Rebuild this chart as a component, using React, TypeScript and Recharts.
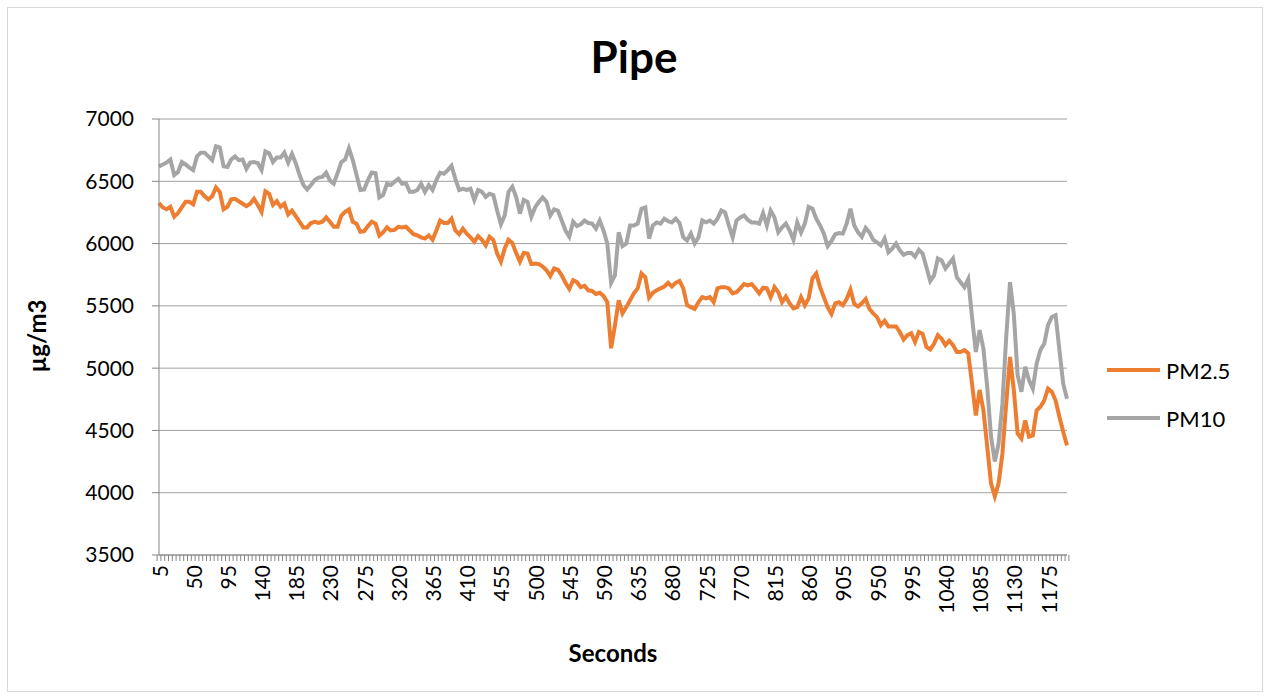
import { LineChart, Line, XAxis, YAxis, CartesianGrid } from "recharts"

// seconds on the category axis, one reading every 5 s
const seconds = Array.from({ length: 240 }, (_, i) => (i + 1) * 5)

const pm25 = [
  6325, 6290, 6275, 6295, 6215, 6245, 6290, 6335, 6335, 6315,
  6415, 6415, 6380, 6355, 6380, 6450, 6415, 6275, 6295, 6355,
  6360, 6340, 6320, 6300, 6320, 6360, 6310, 6255, 6420, 6400,
  6310, 6340, 6295, 6320, 6235, 6265, 6220, 6175, 6130, 6130,
  6165, 6175, 6165, 6175, 6210, 6175, 6135, 6135, 6225, 6255,
  6275, 6175, 6160, 6095, 6100, 6140, 6175, 6160, 6065, 6090,
  6130, 6105, 6110, 6135, 6130, 6135, 6105, 6075, 6065, 6050,
  6040, 6065, 6030, 6105, 6185, 6165, 6165, 6200, 6105, 6075,
  6120, 6080, 6050, 6015, 6060, 6030, 5985, 6055, 6030, 5920,
  5855, 5960, 6030, 6005, 5925, 5855, 5925, 5920, 5835, 5840,
  5835, 5815, 5785, 5740, 5800, 5790, 5745, 5685, 5635, 5705,
  5690, 5650, 5660, 5625, 5620, 5595, 5605, 5580, 5530, 5160,
  5340, 5545, 5440, 5490, 5545, 5600, 5640, 5760, 5730, 5565,
  5605, 5625, 5640, 5655, 5685, 5655, 5685, 5700, 5640, 5505,
  5490, 5475, 5530, 5570, 5560, 5570, 5530, 5640, 5650, 5650,
  5640, 5600, 5610, 5640, 5675, 5665, 5675, 5640, 5600, 5645,
  5640, 5570, 5650, 5610, 5530, 5575, 5520, 5480, 5490, 5570,
  5505, 5560, 5720, 5760, 5650, 5570, 5490, 5435, 5520, 5530,
  5505, 5555, 5630, 5515, 5495, 5520, 5555, 5475, 5440, 5410,
  5345, 5380, 5335, 5335, 5335, 5290, 5230, 5265, 5280, 5210,
  5290, 5275, 5170, 5150, 5195, 5265, 5235, 5185, 5220, 5185,
  5130, 5130, 5145, 5120, 4875, 4620, 4825, 4660, 4370, 4075,
  3970, 4075, 4315, 4715, 5090, 4825, 4475, 4435, 4580, 4450,
  4460, 4660, 4690, 4740, 4835, 4810, 4740, 4610, 4490, 4380,
]

const pm10 = [
  6620, 6635, 6650, 6675, 6550, 6575, 6655, 6635, 6610, 6590,
  6700, 6730, 6730, 6700, 6670, 6780, 6770, 6620, 6615, 6675,
  6700, 6670, 6675, 6600, 6650, 6655, 6645, 6590, 6740, 6725,
  6655, 6690, 6690, 6730, 6650, 6720, 6645, 6550, 6470, 6435,
  6470, 6510, 6530, 6535, 6570, 6505, 6480, 6565, 6655, 6675,
  6765, 6670, 6550, 6430, 6435, 6510, 6570, 6565, 6370, 6390,
  6480, 6470, 6495, 6520, 6480, 6485, 6415, 6415, 6430, 6480,
  6415, 6470, 6430, 6510, 6570, 6560, 6590, 6625, 6520, 6430,
  6440, 6430, 6440, 6350, 6430, 6415, 6375, 6400, 6390, 6265,
  6155, 6225, 6415, 6455, 6375, 6240, 6350, 6335, 6215, 6290,
  6335, 6370, 6335, 6225, 6275, 6265, 6185, 6105, 6055, 6175,
  6140, 6155, 6185, 6165, 6160, 6120, 6185, 6105, 6000, 5685,
  5745, 6090, 5980, 6000, 6145, 6145, 6160, 6280, 6290, 6040,
  6145, 6170, 6160, 6200, 6180, 6170, 6200, 6165, 6050, 6025,
  6080, 6000, 6050, 6185, 6170, 6185, 6160, 6200, 6265, 6250,
  6145, 6050, 6185, 6210, 6225, 6190, 6170, 6170, 6160, 6245,
  6145, 6265, 6210, 6090, 6130, 6160, 6105, 6030, 6170, 6090,
  6160, 6295, 6280, 6200, 6145, 6080, 5980, 6020, 6075, 6085,
  6080, 6160, 6280, 6145, 6090, 6055, 6125, 6090, 6030, 6010,
  5985, 6040, 5930, 5960, 6000, 5945, 5910, 5925, 5925, 5895,
  5950, 5920, 5810, 5700, 5745, 5880, 5865, 5800, 5840, 5880,
  5730, 5690, 5650, 5715, 5410, 5130, 5305, 5155, 4850, 4450,
  4250, 4395, 4715, 5250, 5690, 5435, 4945, 4810, 5010, 4905,
  4835, 5035, 5145, 5195, 5345, 5410, 5425, 5145, 4875, 4755,
]

const yTicks = [3500, 4000, 4500, 5000, 5500, 6000, 6500, 7000]

const series = [
  { key: "pm25", name: "PM2.5", color: "#ED7D31" },
  { key: "pm10", name: "PM10", color: "#A5A5A5" },
]

const data = seconds.map((s, i) => ({ s, pm25: pm25[i], pm10: pm10[i] }))

const W = 1267
const H = 698
const FONT = "Lato, 'Open Sans', sans-serif"
const AXIS = "#868686"
const yAxisWidth = 159
const rightGap = 200
const band = (W - yAxisWidth - rightGap) / seconds.length

function SecondsTick(props: any) {
  const { x, y, payload, index } = props
  const left = x - band / 2
  const ly = y + 10
  return (
    <g>
      <line x1={left} y1={y} x2={left} y2={y + 6} stroke={AXIS} />
      {index === seconds.length - 1 && (
        <line x1={x + band / 2} y1={y} x2={x + band / 2} y2={y + 6} stroke={AXIS} />
      )}
      {index % 9 === 0 && (
        <text
          x={x}
          y={ly}
          transform={`rotate(-90 ${x} ${ly})`}
          textAnchor="end"
          dominantBaseline="central"
          fontSize={21}
          fontFamily={FONT}
          fill="#000"
        >
          {payload.value}
        </text>
      )}
    </g>
  )
}

export default function App() {
  return (
    <div style={{ position: "absolute", left: 0, top: 0, width: W, height: H, background: "#fff" }}>
      <LineChart
        width={W}
        height={H}
        data={data}
        margin={{ top: 119, right: rightGap, bottom: 0, left: 0 }}
      >
        <CartesianGrid horizontal vertical={false} stroke="#a0a0a0" />
        <XAxis
          dataKey="s"
          interval={0}
          height={143}
          tickLine={false}
          tickSize={0}
          tickMargin={0}
          axisLine={{ stroke: AXIS }}
          tick={SecondsTick}
        />
        <YAxis
          domain={[3500, 7000]}
          ticks={yTicks}
          interval={0}
          width={yAxisWidth}
          axisLine={{ stroke: AXIS }}
          tickLine={{ stroke: AXIS }}
          tickSize={7}
          tickMargin={18}
          tick={{ fill: "#000", fontSize: 21, fontFamily: FONT }}
        />
        {series.map((s) => (
          <Line
            key={s.key}
            type="linear"
            dataKey={s.key}
            name={s.name}
            stroke={s.color}
            strokeWidth={4}
            dot={false}
            isAnimationActive={false}
          />
        ))}
      </LineChart>
      <svg
        width={W}
        height={H}
        style={{ position: "absolute", left: 0, top: 0, pointerEvents: "none" }}
      >
        <rect x={7.5} y={7.5} width={1255} height={684} fill="none" stroke="#d9d9d9" />
        <text x={634} y={73} textAnchor="middle" fontSize={44} fontWeight="bold" fontFamily={FONT}>
          Pipe
        </text>
        <text
          x={36}
          y={336}
          transform="rotate(-90 36 336)"
          textAnchor="middle"
          dominantBaseline="central"
          fontSize={24}
          fontWeight="bold"
          fontFamily={FONT}
        >
          µg/m3
        </text>
        <text
          x={613}
          y={652}
          textAnchor="middle"
          dominantBaseline="central"
          fontSize={24}
          fontWeight="bold"
          fontFamily={FONT}
        >
          Seconds
        </text>
        {series.map((s, i) => (
          <g key={s.key}>
            <line x1={1107} y1={370 + i * 48} x2={1160} y2={370 + i * 48} stroke={s.color} strokeWidth={4} />
            <text x={1166} y={370 + i * 48} dominantBaseline="central" fontSize={22} fontFamily={FONT}>
              {s.name}
            </text>
          </g>
        ))}
      </svg>
    </div>
  )
}
